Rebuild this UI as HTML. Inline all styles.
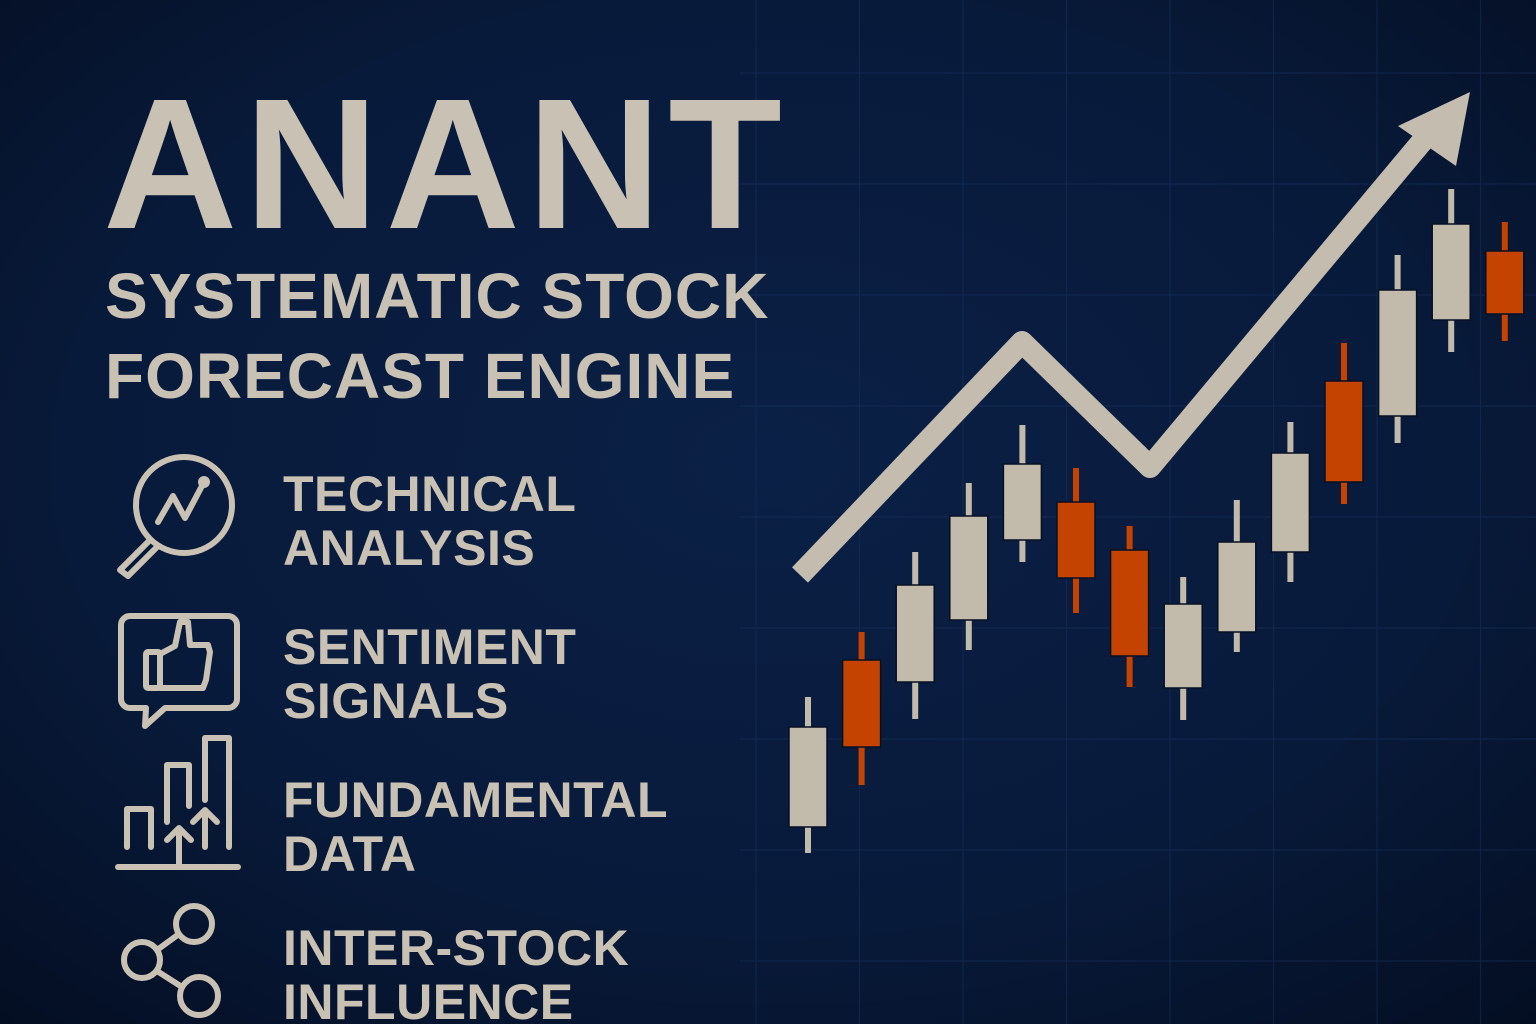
<!DOCTYPE html>
<html><head><meta charset="utf-8"><style>
html,body{margin:0;padding:0;background:#06152e;}
svg{display:block;}
text{font-family:"Liberation Sans",sans-serif;font-weight:bold;fill:#c9c1b3;}
</style></head><body>
<svg id="chart" width="1536" height="1024" viewBox="0 0 1536 1024" xmlns="http://www.w3.org/2000/svg">
<defs>
<radialGradient id="bg" cx="50%" cy="45%" r="75%">
<stop offset="0" stop-color="#0b2046"/><stop offset="0.6" stop-color="#081a3a"/><stop offset="1" stop-color="#040e22"/>
</radialGradient>
</defs>
<rect width="1536" height="1024" fill="url(#bg)"/>
<g id="grid" stroke="#1a3560" stroke-width="1.2" opacity="0.45"></g>

<g>
<text x="103" y="228" font-size="186" letter-spacing="7">ANANT</text>
<text x="105" y="318" font-size="64" letter-spacing="1">SYSTEMATIC STOCK</text>
<text x="105" y="398" font-size="64" letter-spacing="1">FORECAST ENGINE</text>
</g>

<g>
<text x="283" y="511" font-size="50" letter-spacing="0.5">TECHNICAL</text>
<text x="283" y="565" font-size="50" letter-spacing="0.5">ANALYSIS</text>
<text x="283" y="664" font-size="50" letter-spacing="0.5">SENTIMENT</text>
<text x="283" y="718" font-size="50" letter-spacing="0.5">SIGNALS</text>
<text x="283" y="817" font-size="50" letter-spacing="0.5">FUNDAMENTAL</text>
<text x="283" y="871" font-size="50" letter-spacing="0.5">DATA</text>
<text x="283" y="965" font-size="50" letter-spacing="0.5">INTER-STOCK</text>
<text x="283" y="1019" font-size="50" letter-spacing="0.5">INFLUENCE</text>
</g>

<g fill="none" stroke="#c9c1b3" stroke-width="6" stroke-linecap="round" stroke-linejoin="round">
<g>
<circle cx="184" cy="505" r="48"/>
<path d="M150 540 L120 570 L128 576 L158 546"/>
<path d="M158 522 L173 496 L185 518 L203 484"/>
<circle cx="204" cy="482" r="3" fill="#c9c1b3"/>
</g>
<g>
<path d="M130 616 H228 a9 9 0 0 1 9 9 V699 a9 9 0 0 1 -9 9 H165 L145 726 L146 708 H130 a9 9 0 0 1 -9 -9 V625 a9 9 0 0 1 9 -9 Z"/>
<rect x="146" y="652" width="14" height="36" rx="2"/>
<path d="M160 654 L175 646 L180 622 L188 622 L190 645 H208 L210 652 L206 680 L203 688 H160"/>
</g>
<g>
<path d="M118 867 H238"/>
<path d="M127 847 V809 H151 V847"/>
<path d="M167 822 V765 H189 V806"/>
<path d="M205 800 V738 H229 V847"/>
<path d="M179 867 V830 M167 840 L179 828 L191 840"/>
<path d="M205 847 V812 M193 822 L205 810 L217 822"/>
</g>
<g>
<circle cx="194" cy="924" r="18"/>
<circle cx="142" cy="960" r="18"/>
<circle cx="199" cy="996" r="19"/>
<path d="M157 950 L179 934 M157 971 L182 987"/>
</g>
</g>

<g>
<polyline points="800,575 1022,342 1150,467 1430,132" fill="none" stroke="#c4bcae" stroke-width="22" stroke-linejoin="round"/>
<polygon points="1470,92 1398,126 1456,166" fill="#c4bcae"/>
</g>
<g id="candles"></g>
</svg>
<script>
const labels = ["c1","c2","c3","c4","c5","c6","c7","c8","c9","c10","c11","c12","c13","c14"];
const openVals  = [7.3, 24.0, 21.8, 28.0, 36.0, 39.8, 35.0, 21.2, 26.8, 34.8, 51.9, 48.4, 58.0, 64.9];
const closeVals = [17.3, 15.3, 31.5, 38.4, 43.6, 32.2, 24.4, 29.6, 35.8, 44.7, 41.8, 61.0, 67.6, 58.6];
const highVals  = [20.3, 26.8, 34.8, 41.7, 47.5, 43.2, 37.4, 32.3, 40.0, 47.8, 55.7, 64.5, 71.1, 67.8];
const lowVals   = [4.7, 11.5, 18.1, 25.0, 33.8, 28.7, 21.3, 18.0, 24.8, 31.8, 39.6, 45.7, 54.8, 55.9];

const NS = "http://www.w3.org/2000/svg";
function xScale(i){ return 808 + i * 53.6; }
function yScale(v){ return 900 - v * 10; }

const grid = document.getElementById("grid");
for (let x = 756; x < 1536; x += 103.5) {
  const l = document.createElementNS(NS, "line");
  
  
  l.setAttribute("x1", x); l.setAttribute("x2", x); l.setAttribute("y1", 0); l.setAttribute("y2", 1024);
  grid.appendChild(l);
}
for (let y = 73; y < 1024; y += 111) {
  const l = document.createElementNS(NS, "line");
  
  
  l.setAttribute("x1", 740); l.setAttribute("x2", 1536); l.setAttribute("y1", y); l.setAttribute("y2", y);
  grid.appendChild(l);
}

const g = document.getElementById("candles");
labels.forEach((lab, i) => {
  const up = closeVals[i] >= openVals[i];
  const col = up ? "#c2baab" : "#c44300";
  const cx = xScale(i);
  const wick = document.createElementNS(NS, "rect");
  
  
  const yh = yScale(highVals[i]), yl = yScale(lowVals[i]);
  wick.setAttribute("x", cx - 3); wick.setAttribute("width", 6);
  wick.setAttribute("y", yh); wick.setAttribute("height", yl - yh);
  wick.setAttribute("fill", col);
  g.appendChild(wick);
  const body = document.createElementNS(NS, "rect");
  
  
  const yt = yScale(Math.max(openVals[i], closeVals[i])), yb = yScale(Math.min(openVals[i], closeVals[i]));
  body.setAttribute("x", cx - 19); body.setAttribute("width", 38);
  body.setAttribute("y", yt); body.setAttribute("height", yb - yt);
  body.setAttribute("fill", col);
  body.setAttribute("stroke", "#061022"); body.setAttribute("stroke-width", "1.5");
  g.appendChild(body);
});
</script>
</body></html>
